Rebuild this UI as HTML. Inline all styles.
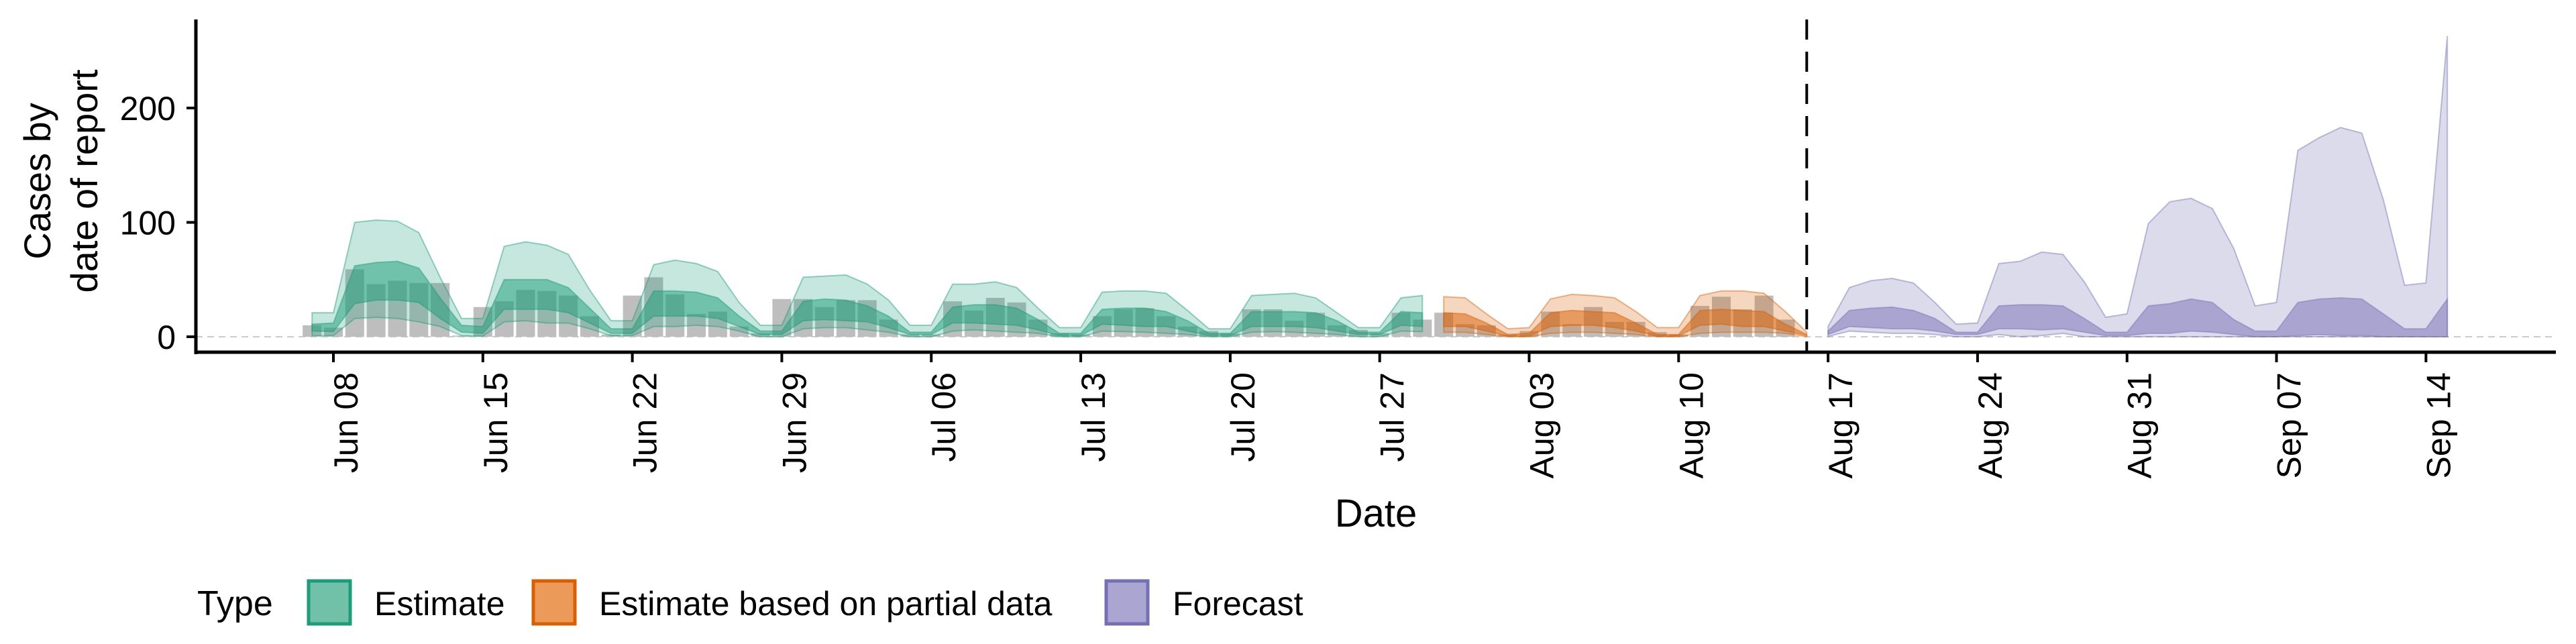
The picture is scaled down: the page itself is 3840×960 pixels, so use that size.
<!DOCTYPE html>
<html><head><meta charset="utf-8"><style>
html,body{margin:0;padding:0;background:#fff;}
svg{display:block;font-family:"Liberation Sans",sans-serif;}
</style></head><body>
<svg id="chart" width="3840" height="960" viewBox="0 0 3840 960" xmlns="http://www.w3.org/2000/svg">
<g id="plot"></g>
<g id="axes"></g>
<text x="2051" y="785" font-size="58" text-anchor="middle">Date</text>
<g transform="translate(0,270) rotate(-90)">
<text x="0" y="75" font-size="56" text-anchor="middle">Cases by</text>
<text x="0" y="145" font-size="56" text-anchor="middle">date of report</text>
</g>
<g>
<text x="294" y="917" font-size="52">Type</text>
<g>
<rect x="460" y="866" width="62" height="64" fill="#70c1a8" stroke="#1b9e77" stroke-width="5"/>
<text x="558" y="917" font-size="50">Estimate</text></g>
<g>
<rect x="795" y="866" width="62" height="64" fill="#ec9a5a" stroke="#d95f02" stroke-width="5"/>
<text x="893" y="917" font-size="50">Estimate based on partial data</text></g>
<g>
<rect x="1649" y="866" width="62" height="64" fill="#aaa6d1" stroke="#7570b3" stroke-width="5"/>
<text x="1748" y="917" font-size="50">Forecast</text></g>
</g>
</svg>
<script>
const tickLabels = ["Jun 08","Jun 15","Jun 22","Jun 29","Jul 06","Jul 13","Jul 20","Jul 27","Aug 03","Aug 10","Aug 17","Aug 24","Aug 31","Sep 07","Sep 14"];
const yTicks = [0,100,200];
// day offsets relative to Jun 08
const estStart = -1;
const estU90 = [21,21,100,102,101,91,52,16,16,79,83,80,72,41,14,14,63,67,64,57,30,10,10,52,53,54,46,32,10,10,46,46,48,43,25,8,8,39,40,40,38,23,7,7,36,37,38,34,21,8,8,34,36];
const estU50 = [11,12,62,65,66,60,34,10,9,50,50,50,43,25,7,7,40,40,39,34,18,5,5,31,33,32,27,18,4,4,26,28,28,25,15,3,3,24,25,25,22,14,3,3,22,22,22,21,14,4,4,22,21];
const estL50 = [5,4.5,29,32,32,30,16,4,3,24,24,24,21,12,3,3,18,18,18,16,9,2,2,14,15,14,13,8,2,2,12,12,11,10,6,1,1,11,10,9,9,5,1,1,9,9,9,8,5,2,2,10,9];
const estL90 = [1,1,16,17,16,13,9,1,0.5,13,14,12,12,7,1,1,9,9,10,9,5,0,0,7,8,8,6,4,0,0,5,6,5,4,3,0,0,5,4.5,4,3,2,0,0,4,4.5,4,3,2,0,0,5,4.5];
const partStart = 52;
const partU90 = [35,34,20,7,8,33,37,36,34,22,8,8,36,40,40,38,22,4];
const partU50 = [21,20,12,2,3,21,23,22,21,12,2,2,23,24,23,22,11,2];
const partL50 = [9,9,5,0.5,0.5,9,10,10,8,5,0.5,0.5,10,11,9,9,5,1];
const partL90 = [4,4,2,0,0,3,4,4,3,2,0,0,3,4,4,4,3,0];
const fcStart = 70;
const fcU90 = [9,43,49,51,47,30,11,12,64,66,74,72,48,17,20,99,118,121,112,77,27,30,163,174,183,178,120,45,47,263];
const fcU50 = [5,23,25,26,23,16,4,4,27,28,28,27,16,4,4,27,29,33,30,15,5,5,30,33,34,33,20,7,7,33];
const fcL50 = [2,9,8,7,7,5,2,2,7,7,6,7,4,1,1,3,3,5,4,2,0,0,1,2,1,1,0,0,0,0];
const fcL90 = [0.3,5,4,3,3,2,0,0,2,0,1,3,0,0,0,0,0,0,0,0,0,0,0,0,0,0,0,0,0,0];
const barStart = -1;
const barValues = [10,8,59,46,49,47,47,1,26,31,41,40,36,18,2,36,52,37,20,22,9,3,33,33,26,32,32,15,2,2,31,23,34,30,15,3,2,18,24,25,18,9,5,3,24,24,14,21,10,6,3,21,15,21,11,10,2,5,22,11,26,13,13,4,2,27,35,24,36,15];
const forecastDate = 69;

const NS="http://www.w3.org/2000/svg";
const X0=497, DAY=31.83, Y0=502, UNIT=1.705;
function xs(d){return X0+d*DAY;}
function ys(v){return Y0-v*UNIT;}
const plot=document.getElementById('plot'), axes=document.getElementById('axes');
function mk(tag,attrs,parent){const e=document.createElementNS(NS,tag);for(const k in attrs)e.setAttribute(k,attrs[k]);parent.appendChild(e);return e;}

// baseline
const bl=mk('line',{x1:292,x2:3810,y1:ys(0),y2:ys(0),stroke:'#cccccc','stroke-width':2,'stroke-dasharray':'10 7'},plot);



barValues.forEach((v,i)=>{
  const d=barStart+i;
  const r=mk('rect',{x:xs(d)-14,y:ys(v),width:28,height:Math.max(0,ys(0)-ys(v)),fill:'#bebebe'},plot);
  
  
});

function band(start,lo,hi,color,op,name){
  let p='';
  hi.forEach((v,i)=>{p+=(i?'L':'M')+xs(start+i).toFixed(1)+','+ys(v).toFixed(1);});
  for(let i=lo.length-1;i>=0;i--)p+='L'+xs(start+i).toFixed(1)+','+ys(lo[i]).toFixed(1);
  p+='Z';
  const e=mk('path',{d:p,fill:color,'fill-opacity':op,stroke:color,'stroke-opacity':0.45,'stroke-width':2},plot);
  
  
}
band(estStart,estL90,estU90,'#1b9e77',0.25,'estimate-90-band');
band(estStart,estL50,estU50,'#1b9e77',0.5,'estimate-50-band');
band(partStart,partL90,partU90,'#d95f02',0.25,'partial-90-band');
band(partStart,partL50,partU50,'#d95f02',0.5,'partial-50-band');
band(fcStart,fcL90,fcU90,'#7570b3',0.25,'forecast-90-band');
band(fcStart,fcL50,fcU50,'#7570b3',0.5,'forecast-50-band');

const fl=mk('line',{x1:xs(forecastDate),x2:xs(forecastDate),y1:29,y2:525,stroke:'#000','stroke-width':4,'stroke-dasharray':'30 18'},plot);



const ya=mk('line',{x1:292,x2:292,y1:29,y2:528,stroke:'#000','stroke-width':5},axes);


const xa=mk('line',{x1:290,x2:3810,y1:525,y2:525,stroke:'#000','stroke-width':5},axes);



yTicks.forEach(v=>{
  const t=mk('line',{x1:278,x2:292,y1:ys(v),y2:ys(v),stroke:'#000','stroke-width':4},axes);
  
  
  const l=mk('text',{x:262,y:ys(v)+18,'font-size':50,'text-anchor':'end'},axes);
  l.textContent=v;
  
  
});
tickLabels.forEach((s,i)=>{
  const x=xs(i*7);
  const t=mk('line',{x1:x,x2:x,y1:525,y2:540,stroke:'#000','stroke-width':4},axes);
  
  
  const l=mk('text',{x:0,y:0,'font-size':50,'text-anchor':'end',transform:'translate('+(x+36)+',555) rotate(-90)'},axes);
  l.textContent=s;
  
  
});
</script>
</body></html>
